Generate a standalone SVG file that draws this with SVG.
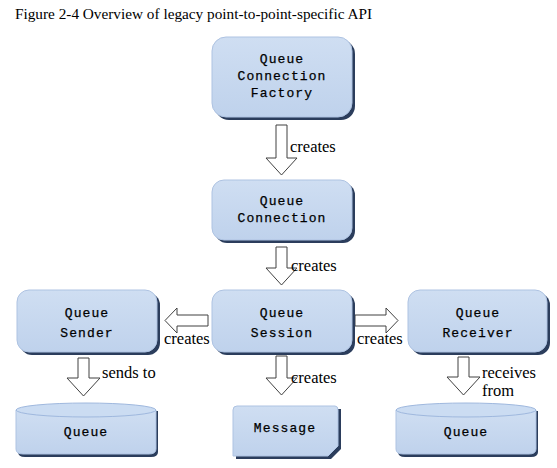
<svg xmlns="http://www.w3.org/2000/svg" width="557" height="468" viewBox="0 0 557 468">
<defs>
<linearGradient id="g" x1="0" y1="0" x2="0" y2="1">
<stop offset="0" stop-color="#cfdef2"/>
<stop offset="1" stop-color="#bfd2ec"/>
</linearGradient>
<style>
.shadow{fill:#2b3d5c}
.box{fill:url(#g);stroke:#aec3e2;stroke-width:1}
.mono{font-family:"Liberation Mono","Courier New",monospace;font-size:13px;letter-spacing:1.1px;fill:#000;stroke:#000;stroke-width:0.25;text-anchor:middle}
.lbl{font-family:"Liberation Serif","Times New Roman",serif;font-size:16.5px;fill:#000}
.arrow{fill:#fff;stroke:#404040;stroke-width:1}
.top{fill:#cbdcf2;stroke:#9fb8de;stroke-width:1}
</style>
</defs>
<rect width="557" height="468" fill="#fff"/>
<text x="15" y="19" font-family="Liberation Serif,serif" font-size="15.5" textLength="357" lengthAdjust="spacingAndGlyphs">Figure 2-4 Overview of legacy point-to-point-specific API</text>

<g id="connectors">
<path class="arrow" d="M276,125 H287 V158 H297 L281.5,175 L266,158 H276 Z"/>
<path class="arrow" d="M276,247 H287 V268 H297 L281.5,285 L266,268 H276 Z"/>
<path class="arrow" d="M276,356 H287 V378 H297 L281.5,395 L266,378 H276 Z"/>
<path class="arrow" d="M78,358 H89 V378 H100 L83.5,396 L67,378 H78 Z"/>
<path class="arrow" d="M458,357 H469 V377 H480 L463.5,395 L447,377 H458 Z"/>
<path class="arrow" d="M208,315 V326 H177 V333 L165,320.5 L177,308 V315 Z"/>
<path class="arrow" d="M355,315 V326 H386 V333 L398,320.5 L386,308 V315 Z"/>
<text class="lbl" x="290" y="152">creates</text>
<text class="lbl" x="291" y="271">creates</text>
<text class="lbl" x="164" y="344">creates</text>
<text class="lbl" x="357" y="344">creates</text>
<text class="lbl" x="291" y="383">creates</text>
<text class="lbl" x="102" y="378">sends to</text>
<text class="lbl" x="482" y="378">receives</text>
<text class="lbl" x="482" y="396">from</text>
</g>

<g id="qcf">
<rect class="shadow" x="215" y="40" width="140" height="80" rx="14"/>
<rect class="box" x="212" y="37" width="140" height="80" rx="14"/>
<text class="mono" x="282" y="63">Queue</text>
<text class="mono" x="282" y="80">Connection</text>
<text class="mono" x="282" y="97">Factory</text>
</g>

<g id="qc">
<rect class="shadow" x="215" y="183" width="140" height="60" rx="12"/>
<rect class="box" x="212" y="180" width="140" height="60" rx="12"/>
<text class="mono" x="282" y="205">Queue</text>
<text class="mono" x="282" y="222">Connection</text>
</g>

<g id="qs">
<rect class="shadow" x="215" y="293" width="140" height="62" rx="12"/>
<rect class="box" x="212" y="290" width="140" height="62" rx="12"/>
<text class="mono" x="282" y="317">Queue</text>
<text class="mono" x="282" y="337">Session</text>
</g>

<g id="sender">
<rect class="shadow" x="20" y="293" width="140" height="62" rx="12"/>
<rect class="box" x="17" y="290" width="140" height="62" rx="12"/>
<text class="mono" x="87" y="317">Queue</text>
<text class="mono" x="87" y="337">Sender</text>
</g>

<g id="receiver">
<rect class="shadow" x="411" y="293" width="139" height="62" rx="12"/>
<rect class="box" x="408" y="290" width="139" height="62" rx="12"/>
<text class="mono" x="478" y="317">Queue</text>
<text class="mono" x="478" y="337">Receiver</text>
</g>

<g id="queue1">
<path class="shadow" d="M18,411 V452 Q18,457 25,457 H151 Q158,457 158,452 V411 Z"/>
<path class="box" d="M16,410 V449 Q16,454 23,454 H149 Q156,454 156,449 V410 Z"/>
<ellipse class="top" cx="86" cy="410" rx="70" ry="7"/>
<text class="mono" x="86" y="436">Queue</text>
</g>

<g id="queue2">
<path class="shadow" d="M398,411 V452 Q398,457 405,457 H531 Q538,457 538,452 V411 Z"/>
<path class="box" d="M396,410 V449 Q396,454 403,454 H529 Q536,454 536,449 V410 Z"/>
<ellipse class="top" cx="466" cy="410" rx="70" ry="7"/>
<text class="mono" x="466" y="436">Queue</text>
</g>

<g id="message">
<path class="shadow" d="M236,409 H341 V449 L331,459 H236 Z"/>
<path class="box" d="M233,410 Q233,406 237,406 H335 Q338,406 338,410 V446 L328,456 H233 Z"/>
<text class="mono" x="285" y="432">Message</text>
</g>
</svg>
